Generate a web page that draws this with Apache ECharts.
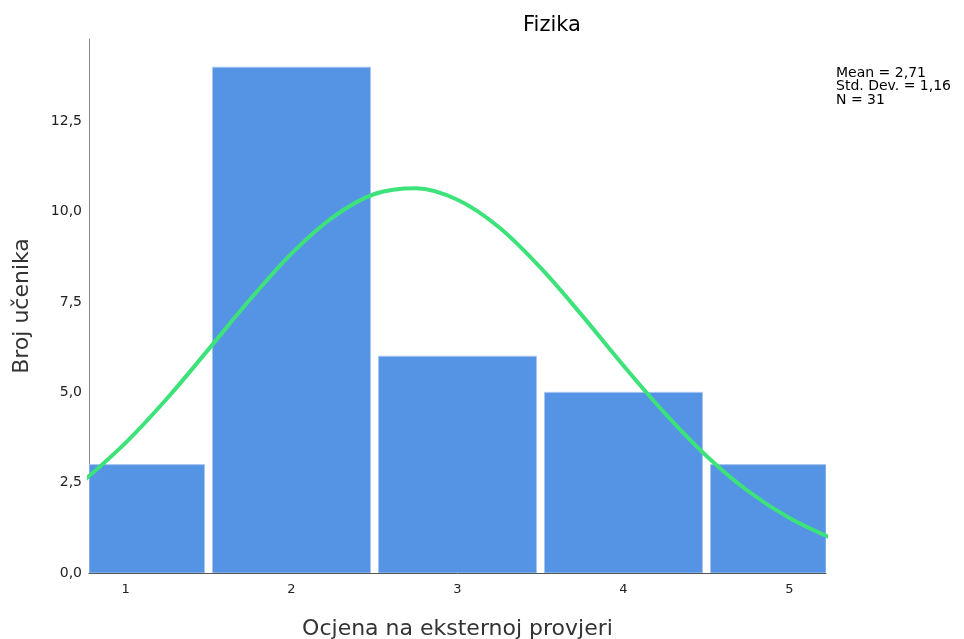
<!DOCTYPE html>
<html>
<head>
<meta charset="utf-8">
<script src="https://cdn.jsdelivr.net/npm/echarts@6/dist/echarts.min.js"></script>
<style>
  html, body { margin: 0; padding: 0; background: #fff; }
  #chart { width: 964px; height: 639px; }
</style>
</head>
<body>
<div id="chart"></div>
<script>
// ocjene i broj učenika
const grades = [1, 2, 3, 4, 5]
const counts = [3, 14, 6, 5, 3]
// normalna krivulja očitana sa slike
const curveX = [0.75, 1.0, 1.25, 1.5, 1.75, 2.0, 2.25, 2.5, 2.75, 3.0, 3.25, 3.5, 3.75, 4.0, 4.25, 4.5, 4.75, 5.0, 5.25]
const curveY = [2.56, 3.60, 4.83, 6.19, 7.57, 8.84, 9.85, 10.49, 10.65, 10.33, 9.57, 8.45, 7.13, 5.74, 4.42, 3.24, 2.27, 1.52, 0.97]
const statLines = ['Mean = 2,71', 'Std. Dev. = 1,16', 'N = 31']

const font = 'DejaVu Sans, Tahoma, sans-serif'
const chart = echarts.init(document.getElementById('chart'))

const option = {
  animation: false,
  title: {
    text: 'Fizika',
    left: 547,
    textAlign: 'center',
    top: 10,
    textStyle: { fontSize: 21, fontWeight: 'normal', color: '#000', fontFamily: font }
  },
  grid: { left: 89, right: 138, top: 39, bottom: 66, outerBoundsMode: 'none' },
  xAxis: {
    type: 'value',
    min: 0.78,
    max: 5.22,
    name: 'Ocjena na eksternoj provjeri',
    nameLocation: 'middle',
    nameGap: 45,
    nameTextStyle: { fontSize: 22, color: '#333', fontFamily: font },
    axisLine: { show: true, lineStyle: { color: '#555', width: 1 } },
    axisTick: { show: false },
    splitLine: { show: false },
    axisLabel: {
      customValues: grades,
      margin: 10,
      fontSize: 13,
      color: '#222',
      fontFamily: font
    }
  },
  yAxis: {
    type: 'value',
    min: 0,
    max: 14.78,
    interval: 2.5,
    name: 'Broj učenika',
    nameLocation: 'middle',
    nameGap: 56,
    nameTextStyle: { fontSize: 22, color: '#333', fontFamily: font },
    axisLine: { show: true, lineStyle: { color: '#888', width: 1 } },
    axisTick: { show: false },
    splitLine: { show: false },
    axisLabel: {
      showMaxLabel: false,
      margin: 7,
      fontSize: 14,
      color: '#222',
      fontFamily: font,
      formatter: v => v.toFixed(1).replace('.', ',')
    }
  },
  graphic: statLines.map((t, i) => ({
    type: 'text',
    left: 836,
    top: 66 + i * 13.5,
    style: { text: t, fontSize: 14, fill: '#000', fontFamily: font }
  })),
  series: [
    {
      type: 'custom',
      clip: true,
      data: grades.map((g, i) => [g - 0.5, g + 0.5, counts[i]]),
      renderItem: (params, api) => {
        const p1 = api.coord([api.value(0), api.value(2)])
        const p2 = api.coord([api.value(1), 0])
        const rect = echarts.graphic.clipRectByRect(
          { x: p1[0] + 4, y: p1[1], width: p2[0] - p1[0] - 8, height: p2[1] - p1[1] },
          { x: params.coordSys.x, y: params.coordSys.y, width: params.coordSys.width, height: params.coordSys.height }
        )
        return rect && {
          type: 'rect',
          shape: rect,
          style: { fill: '#5594e4', stroke: '#a9c6f2', lineWidth: 1 }
        }
      },
      z: 2
    },
    {
      type: 'line',
      data: curveX.map((x, i) => [x, curveY[i]]),
      smooth: 0.35,
      clip: true,
      symbol: 'none',
      lineStyle: { color: '#3ee27a', width: 4 },
      z: 3
    }
  ]
}

chart.setOption(option)
</script>
</body>
</html>
